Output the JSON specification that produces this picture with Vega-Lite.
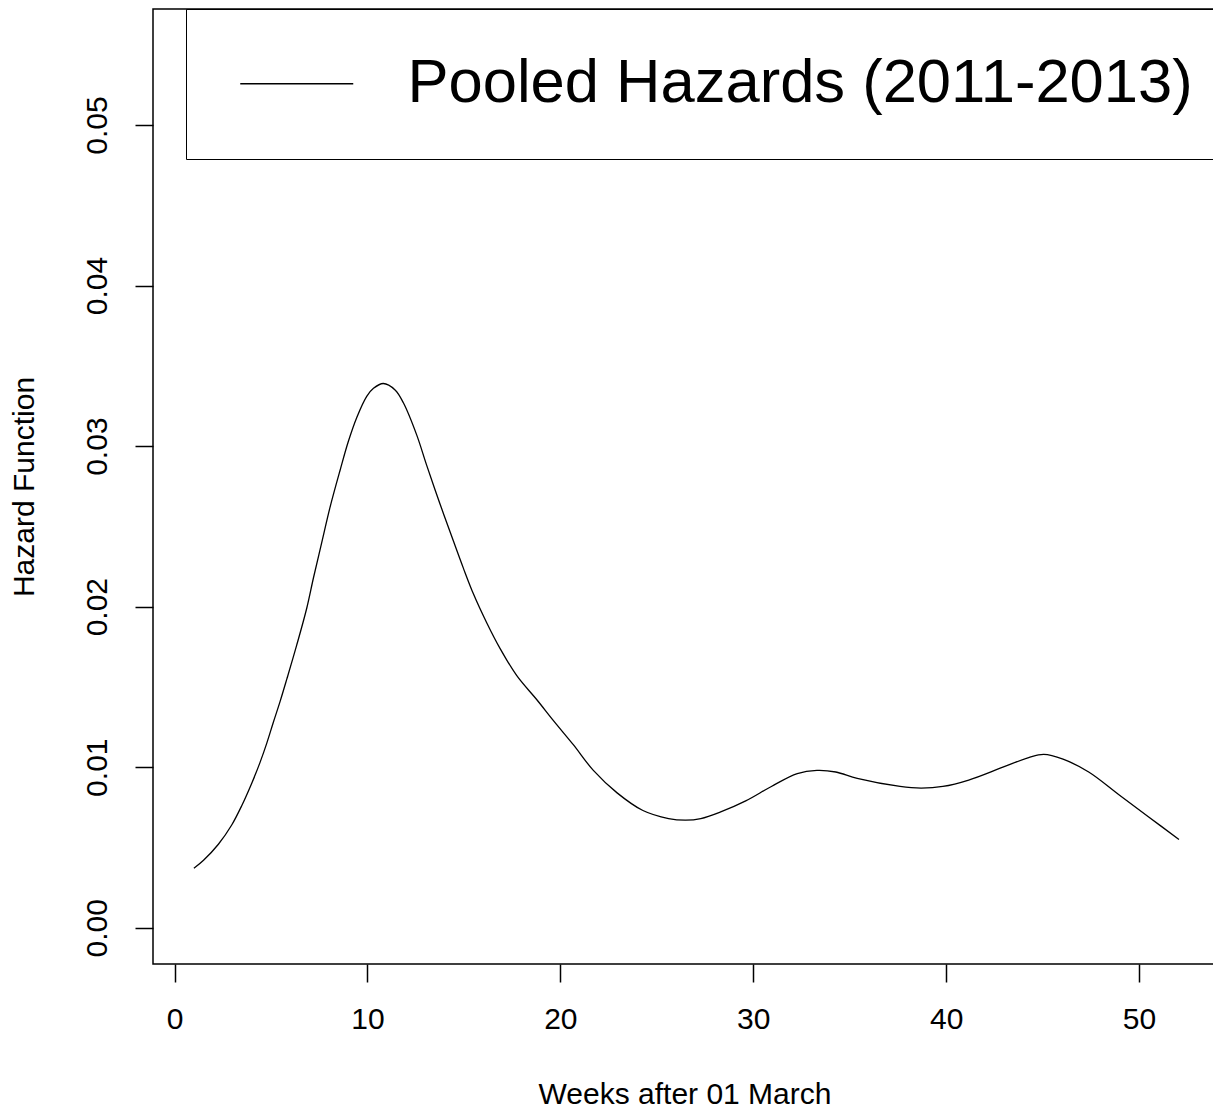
{
  "$schema": "https://vega.github.io/schema/vega-lite/v6.json",
  "autosize": {"type": "none"},
  "padding": {"left": 153, "top": 9, "right": -3, "bottom": 150},
  "width": 1063,
  "height": 955,
  "background": "white",
  "config": {
    "font": "Liberation Sans",
    "view": {"stroke": "black", "strokeWidth": 1.5},
    "axis": {
      "domain": false,
      "grid": false,
      "ticks": true,
      "tickColor": "black",
      "tickWidth": 1.5,
      "tickSize": 18,
      "labelFont": "Liberation Sans",
      "labelFontSize": 30,
      "labelColor": "black",
      "titleFont": "Liberation Sans",
      "titleFontSize": 30,
      "titleFontWeight": "normal",
      "titleColor": "black"
    }
  },
  "data": {
    "values": [
      {"week": 1.0, "hazard": 0.0037},
      {"week": 1.5, "hazard": 0.0042},
      {"week": 2.27, "hazard": 0.0052},
      {"week": 2.96, "hazard": 0.0064},
      {"week": 3.48, "hazard": 0.0076},
      {"week": 4.0, "hazard": 0.009},
      {"week": 4.43, "hazard": 0.0103},
      {"week": 4.78, "hazard": 0.0115},
      {"week": 5.12, "hazard": 0.0128},
      {"week": 5.47, "hazard": 0.0141},
      {"week": 5.82, "hazard": 0.0155},
      {"week": 6.33, "hazard": 0.0176},
      {"week": 6.85, "hazard": 0.0199},
      {"week": 7.2, "hazard": 0.0218},
      {"week": 7.63, "hazard": 0.024},
      {"week": 8.06, "hazard": 0.0262},
      {"week": 8.58, "hazard": 0.0285},
      {"week": 9.01, "hazard": 0.0303},
      {"week": 9.45, "hazard": 0.0318},
      {"week": 9.96, "hazard": 0.0331},
      {"week": 10.31, "hazard": 0.0336},
      {"week": 10.82, "hazard": 0.0339},
      {"week": 11.43, "hazard": 0.0335},
      {"week": 11.86, "hazard": 0.0327},
      {"week": 12.55, "hazard": 0.0307},
      {"week": 13.07, "hazard": 0.0288},
      {"week": 13.76, "hazard": 0.0264},
      {"week": 14.45, "hazard": 0.0241},
      {"week": 14.97, "hazard": 0.0224},
      {"week": 15.49, "hazard": 0.0208},
      {"week": 16.18, "hazard": 0.019},
      {"week": 16.87, "hazard": 0.0174},
      {"week": 17.74, "hazard": 0.0157},
      {"week": 18.78, "hazard": 0.0142},
      {"week": 19.64, "hazard": 0.0129},
      {"week": 20.67, "hazard": 0.0114},
      {"week": 21.71, "hazard": 0.0098},
      {"week": 22.94, "hazard": 0.0084},
      {"week": 24.28, "hazard": 0.0073},
      {"week": 25.61, "hazard": 0.0068},
      {"week": 26.5, "hazard": 0.0067},
      {"week": 27.28, "hazard": 0.0068},
      {"week": 28.28, "hazard": 0.0072},
      {"week": 29.61, "hazard": 0.0079},
      {"week": 30.94, "hazard": 0.0088},
      {"week": 32.28, "hazard": 0.0096},
      {"week": 33.3, "hazard": 0.0098},
      {"week": 34.28, "hazard": 0.0097},
      {"week": 35.39, "hazard": 0.0093},
      {"week": 37.61, "hazard": 0.0088},
      {"week": 38.7, "hazard": 0.0087},
      {"week": 39.83, "hazard": 0.0088},
      {"week": 41.17, "hazard": 0.0092},
      {"week": 42.94, "hazard": 0.01},
      {"week": 44.28, "hazard": 0.0106},
      {"week": 45.06, "hazard": 0.0108},
      {"week": 46.06, "hazard": 0.0105},
      {"week": 47.39, "hazard": 0.0097},
      {"week": 48.94, "hazard": 0.0083},
      {"week": 50.5, "hazard": 0.0069},
      {"week": 52.07, "hazard": 0.0055}
    ]
  },
  "mark": {"type": "line", "interpolate": "catmull-rom", "strokeWidth": 1.3},
  "encoding": {
    "x": {
      "field": "week",
      "type": "quantitative",
      "scale": {"domain": [-1.12, 53.99], "nice": false, "zero": false},
      "axis": {
        "title": "Weeks after 01 March",
        "values": [0, 10, 20, 30, 40, 50],
        "labelPadding": 22,
        "titlePadding": 45
      }
    },
    "y": {
      "field": "hazard",
      "type": "quantitative",
      "scale": {"domain": [-0.00226, 0.05723], "nice": false, "zero": false},
      "axis": {
        "title": "Hazard Function",
        "values": [0, 0.01, 0.02, 0.03, 0.04, 0.05],
        "format": ".2f",
        "labelAngle": 270,
        "labelAlign": "center",
        "labelBaseline": "bottom",
        "labelPadding": 23,
        "titlePadding": 43
      }
    },
    "color": {
      "datum": "Pooled Hazards (2011-2013)",
      "type": "nominal",
      "scale": {"range": ["black"]},
      "legend": {
        "title": null,
        "orient": "none",
        "legendX": 33,
        "legendY": 0,
        "padding": 44,
        "strokeColor": "black",
        "symbolType": "M-2,0H2",
        "symbolSize": 3192,
        "symbolStrokeWidth": 1.5,
        "symbolStrokeColor": "black",
        "symbolOffset": 36,
        "labelOffset": 80,
        "labelFont": "Liberation Sans",
        "labelFontSize": 61.5,
        "labelColor": "black",
        "labelBaseline": "middle",
        "labelLimit": 2000
      }
    }
  }
}
